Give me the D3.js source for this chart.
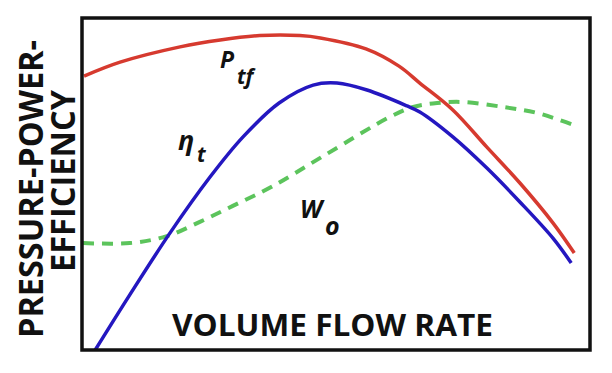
<!DOCTYPE html>
<html>
<head>
<meta charset="utf-8">
<script src="https://cdn.jsdelivr.net/npm/d3@7"></script>
<style>
  html, body { margin: 0; padding: 0; background: #fff; }
  svg { display: block; }
</style>
</head>
<body>
<div id="chart"></div>
<script>
// fan curves (0-100 on both axes)
const ptfFlow  = [0.4, 7.5, 19.3, 27.2, 35.0, 42.9, 46.9, 55.9, 62.4, 66.5, 73.0, 79.7, 86.2, 92.7, 96.9];
const ptfValue = [82.5, 86.7, 91.3, 93.4, 94.7, 94.7, 94.0, 90.7, 85.5, 80.4, 72.3, 61.1, 50.3, 38.3, 29.2];

const etaFlow  = [2.6, 9.4, 17.3, 25.2, 31.7, 38.8, 45.5, 50.2, 56.1, 64.0, 66.5, 73.0, 79.7, 86.2, 92.7, 96.3];
const etaValue = [0, 16.6, 35.2, 52.1, 64.2, 74.4, 79.8, 80.4, 78.3, 73.5, 71.7, 64.2, 54.8, 44.6, 33.7, 26.2];

const woFlow  = [0.2, 9.4, 16.7, 23.2, 29.7, 37.6, 47.8, 60.6, 65.2, 69.9, 75.0, 82.9, 89.6, 96.7];
const woValue = [32.2, 32.2, 34.3, 38.6, 43.4, 49.4, 58.7, 70.2, 73.2, 74.4, 74.7, 73.2, 71.4, 67.8];

const xTitle = 'VOLUME FLOW RATE';
const yTitle = ['PRESSURE-POWER-', 'EFFICIENCY'];

const width = 612, height = 373;
const margin = { top: 18, right: 22, bottom: 23, left: 82 };

const svg = d3.select('#chart')
  .append('svg')
  .attr('width', width)
  .attr('height', height);

let x = d3.scaleLinear()
  .domain([0, 100])
  .range([margin.left, width - margin.right]);

let y = d3.scaleLinear()
  .domain([0, 100])
  .range([height - margin.bottom, margin.top]);

let line = d3.line()
  .x(d => x(d[0]))
  .y(d => y(d[1]))
  .curve(d3.curveCatmullRom.alpha(0.5));

const zip = (a, b) => a.map((v, i) => [v, b[i]]);

svg.append('clipPath')
  .attr('id', 'plot-clip')
  .append('rect')
  .attr('x', x(0))
  .attr('y', y(100))
  .attr('width', x(100) - x(0))
  .attr('height', y(0) - y(100));

const plot = svg.append('g').attr('clip-path', 'url(#plot-clip)');

plot.append('path')
  .datum(zip(woFlow, woValue))
  .attr('fill', 'none')
  .attr('stroke', '#5cc45c')
  .attr('stroke-width', 4)
  .attr('stroke-dasharray', '11 8')
  .attr('d', line);

plot.append('path')
  .datum(zip(ptfFlow, ptfValue))
  .attr('fill', 'none')
  .attr('stroke', '#d63a2f')
  .attr('stroke-width', 3.5)
  .attr('d', line);

plot.append('path')
  .datum(zip(etaFlow, etaValue))
  .attr('fill', 'none')
  .attr('stroke', '#2417c0')
  .attr('stroke-width', 3.5)
  .attr('d', line);

// frame
svg.append('rect')
  .attr('x', x(0))
  .attr('y', y(100))
  .attr('width', x(100) - x(0))
  .attr('height', y(0) - y(100))
  .attr('fill', 'none')
  .attr('stroke', '#111')
  .attr('stroke-width', 3.5);

// titles
svg.append('text')
  .attr('x', 172)
  .attr('y', 336)
  .attr('textLength', 321)
  .attr('lengthAdjust', 'spacingAndGlyphs')
  .style('font-family', '"Open Sans", sans-serif')
  .style('font-weight', 'bold')
  .style('font-size', '31px')
  .style('fill', '#111')
  .text(xTitle);

[[43, 338, 298], [75, 272, 182]].forEach((p, i) => {
  svg.append('text')
    .attr('transform', `translate(${p[0]},${p[1]}) rotate(-90)`)
    .attr('textLength', p[2])
    .attr('lengthAdjust', 'spacingAndGlyphs')
    .style('font-family', '"Open Sans", sans-serif')
    .style('font-weight', 'bold')
    .style('font-size', '34px')
    .style('fill', '#111')
    .text(yTitle[i]);
});

// curve labels
const labelStyle = t => t
  .style('font-family', '"Open Sans", sans-serif')
  .style('font-weight', 'bold')
  .style('font-style', 'italic')
  .style('fill', '#111');

svg.append('text').attr('x', 220).attr('y', 68).style('font-size', '23px').call(labelStyle).text('P');
svg.append('text').attr('x', 237).attr('y', 84).style('font-size', '21px').call(labelStyle).text('tf');

svg.append('text').attr('x', 178).attr('y', 150).style('font-size', '27px').call(labelStyle).text('η');
svg.append('text').attr('x', 197).attr('y', 162).style('font-size', '21px').call(labelStyle).text('t');

svg.append('text').attr('x', 300).attr('y', 218).style('font-size', '25px').call(labelStyle).text('W');
svg.append('text').attr('x', 325).attr('y', 235).style('font-size', '25px').call(labelStyle).text('o');
</script>
</body>
</html>
